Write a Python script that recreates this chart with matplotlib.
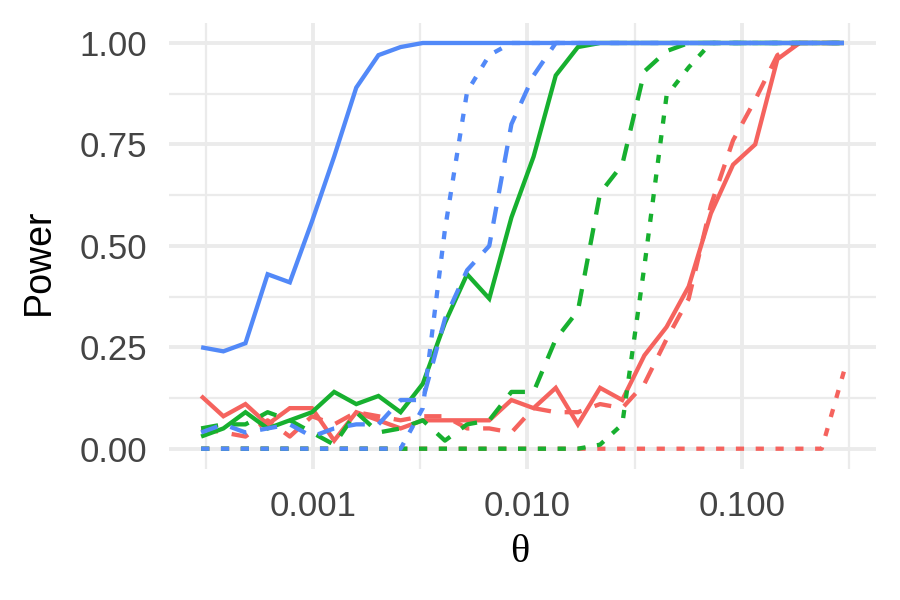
import numpy as np
import matplotlib.pyplot as plt
from matplotlib.ticker import FixedLocator, NullFormatter

# theta grid (30 log-spaced points, 0.0003 .. 0.3)
theta = [0.000300, 0.000381, 0.000483, 0.000613, 0.000778, 0.000987, 0.001253,
         0.001589, 0.002017, 0.002559, 0.003248, 0.004121, 0.005230, 0.006637,
         0.008422, 0.010687, 0.013561, 0.017209, 0.021837, 0.027710, 0.035163,
         0.044620, 0.056621, 0.071850, 0.091173, 0.115697, 0.146815, 0.186302,
         0.236413, 0.300000]

# power curves
red_solid = [0.13, 0.08, 0.11, 0.06, 0.10, 0.10, 0.02, 0.09, 0.07, 0.05,
             0.07, 0.07, 0.07, 0.07, 0.12, 0.10, 0.15, 0.06, 0.15, 0.12,
             0.23, 0.30, 0.40, 0.58, 0.70, 0.75, 0.96, 1.00, 1.00, 1.00]
red_dashed = [0.05, 0.04, 0.03, 0.07, 0.03, 0.08, 0.06, 0.09, 0.08, 0.07,
              0.08, 0.08, 0.05, 0.05, 0.04, 0.10, 0.09, 0.09, 0.11, 0.10,
              0.16, 0.27, 0.37, 0.60, 0.76, 0.86, 0.97, 1.00, 1.00, 1.00]
red_dotted = [0.0] * 29 + [0.19]

green_solid = [0.03, 0.05, 0.09, 0.05, 0.07, 0.09, 0.14, 0.11, 0.13, 0.09,
               0.16, 0.31, 0.43, 0.37, 0.57, 0.72, 0.92, 0.99, 1.00, 1.00,
               1.00, 1.00, 1.00, 1.00, 1.00, 1.00, 1.00, 1.00, 1.00, 1.00]
green_dashed = [0.05, 0.06, 0.06, 0.09, 0.07, 0.04, 0.01, 0.09, 0.04, 0.05,
                0.07, 0.02, 0.06, 0.07, 0.14, 0.14, 0.27, 0.34, 0.63, 0.70,
                0.93, 0.98, 1.00, 1.00, 1.00, 1.00, 1.00, 1.00, 1.00, 1.00]
green_dotted = [0.0] * 18 + [0.01, 0.06, 0.45, 0.87, 0.94, 1.00,
                             1.00, 1.00, 1.00, 1.00, 1.00, 1.00]

blue_solid = [0.25, 0.24, 0.26, 0.43, 0.41, 0.56, 0.72, 0.89, 0.97, 0.99] + [1.0] * 20
blue_dashed = [0.04, 0.06, 0.04, 0.05, 0.06, 0.03, 0.05, 0.06, 0.06, 0.12,
               0.12, 0.32, 0.44, 0.50, 0.80, 0.92] + [1.0] * 14
blue_dotted = [0.0] * 10 + [0.10, 0.54, 0.88, 0.97] + [1.0] * 16

RED, GREEN, BLUE = '#F5635E', '#17B02F', '#5289F8'
DASHED = (0, (4, 3.2))
DOTTED = (0, (1.9, 2.7))

# drawn in this order: red under green under blue, solid blue on top
series = [
    (red_solid, RED, '-'), (red_dashed, RED, DASHED), (red_dotted, RED, DOTTED),
    (green_solid, GREEN, '-'), (green_dashed, GREEN, DASHED), (green_dotted, GREEN, DOTTED),
    (blue_dotted, BLUE, DOTTED), (blue_dashed, BLUE, DASHED), (blue_solid, BLUE, '-'),
]

fig = plt.figure(figsize=(9, 6), dpi=100)
ax = fig.add_axes([169 / 900, 1 - 469 / 600, (876 - 169) / 900, (469 - 22.7) / 600])

for ys, col, ls in series:
    ax.plot(theta, ys, color=col, linestyle=ls, linewidth=3.1,
            solid_capstyle='butt', dash_capstyle='butt', solid_joinstyle='miter')

ax.set_xscale('log')
ax.set_xlim(10 ** -3.6729, 10 ** -0.3729)
ax.set_ylim(-0.05, 1.05)

ax.xaxis.set_major_locator(FixedLocator([0.001, 0.01, 0.1]))
ax.set_xticklabels(['0.001', '0.010', '0.100'])
ax.xaxis.set_minor_locator(FixedLocator([10 ** -3.5, 10 ** -2.5, 10 ** -1.5, 10 ** -0.5]))
ax.xaxis.set_minor_formatter(NullFormatter())
ax.yaxis.set_major_locator(FixedLocator([0, 0.25, 0.5, 0.75, 1.0]))
ax.set_yticklabels(['0.00', '0.25', '0.50', '0.75', '1.00'])
ax.yaxis.set_minor_locator(FixedLocator([0.125, 0.375, 0.625, 0.875]))

ax.set_axisbelow(True)
ax.grid(True, which='major', color='#EBEBEB', linewidth=2.8)
ax.grid(True, which='minor', color='#EBEBEB', linewidth=1.6)
for s in ax.spines.values():
    s.set_visible(False)
ax.tick_params(which='both', length=0)
ax.tick_params(axis='y', pad=16, labelsize=25, labelcolor='#444444')
ax.tick_params(axis='x', pad=15, labelsize=25, labelcolor='#444444')
for lab in ax.get_xticklabels() + ax.get_yticklabels():
    lab.set_fontfamily('Liberation Sans')

fig.text(39 / 900, 1 - 262 / 600, 'Power', rotation=90, ha='center', va='center',
         fontsize=27, family='Liberation Sans', color='black')
fig.text(520 / 900, 1 - 552 / 600, 'θ', ha='center', va='center',
         fontsize=29, family='Liberation Serif', color='black')

plt.savefig('out.png', dpi=100)
